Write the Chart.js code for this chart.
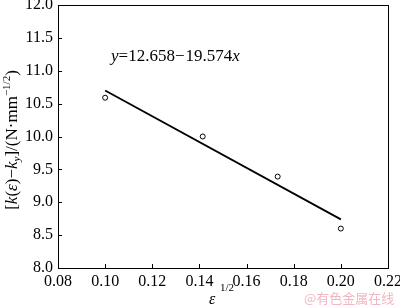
<!DOCTYPE html>
<html>
<head>
<meta charset="utf-8">
<script src="https://cdn.jsdelivr.net/npm/chart.js@4"></script>
<style>
  html, body { margin:0; padding:0; background:#fff; }
  #wrap { width:400px; height:307px; position:relative; }
</style>
</head>
<body>
<div id="wrap"><canvas id="c" width="400" height="307"></canvas></div>
<script>
// measured points (sqrt of strain vs. k(e)-ky)
const epsRoot = [0.100, 0.1414, 0.1732, 0.200];
const kDiff = [10.59, 10.00, 9.39, 8.60];
// fitted line y = 12.658 - 19.574x, end points
const fitX = [0.100, 0.200];
const fitY = [10.70, 8.74];

const SERIF = '"Liberation Serif", "DejaVu Serif", serif';

const frame = {
    id: 'frame',
    afterDraw(chart) {
        const { ctx, chartArea: a, scales } = chart;
        ctx.save();
        ctx.strokeStyle = '#000';
        ctx.lineWidth = 1;
        ctx.strokeRect(a.left + 0.5, a.top + 0.5, a.width, a.height);
        // inward tick marks
        ctx.beginPath();
        scales.x.ticks.forEach(t => {
            const px = Math.round(scales.x.getPixelForValue(t.value)) + 0.5;
            ctx.moveTo(px, a.bottom); ctx.lineTo(px, a.bottom - 4);
        });
        scales.y.ticks.forEach(t => {
            const py = Math.round(scales.y.getPixelForValue(t.value)) + 0.5;
            ctx.moveTo(a.left, py); ctx.lineTo(a.left + 4, py);
        });
        ctx.stroke();

        // equation
        ctx.fillStyle = '#000';
        ctx.textBaseline = 'alphabetic';
        let x = 111;
        const yb = 61;
        const parts = [['y', 'italic '], ['=12.658', ''], ['\u2212', ''], ['19.574', ''], ['x', 'italic ']];
        parts.forEach(([s, st]) => {
            ctx.font = st + '17px ' + SERIF;
            ctx.fillText(s, x, yb);
            x += ctx.measureText(s).width + (s === '\u2212' ? 1 : 0);
        });

        // x title
        ctx.font = 'italic 16px ' + SERIF;
        ctx.fillText('\u03b5', 209, 304);
        ctx.font = '11px ' + SERIF;
        ctx.fillText('1/2', 220, 291);

        // y title (rotated)
        ctx.translate(17, 140);
        ctx.rotate(-Math.PI / 2);
        const yt = [
            ['[', '', 17, 0], ['k', 'italic ', 17, 0], ['(', '', 17, 0], ['\u03b5', 'italic ', 17, 0],
            [')\u2212', '', 17, 0], ['k', 'italic ', 17, 0], ['y', 'italic ', 11, 3],
            [']/(N\u00b7mm', '', 17, 0], ['\u22121/2', '', 11, -7], [')', '', 17, 0]
        ];
        let w = 0;
        yt.forEach(([s, st, sz]) => { ctx.font = st + sz + 'px ' + SERIF; w += ctx.measureText(s).width; });
        let cx = -w / 2;
        yt.forEach(([s, st, sz, dy]) => {
            ctx.font = st + sz + 'px ' + SERIF;
            ctx.fillText(s, cx, dy);
            cx += ctx.measureText(s).width;
        });
        ctx.restore();

        // watermark
        ctx.save();
        ctx.fillStyle = '#f2b6c0';
        ctx.font = '13px "Noto Sans CJK SC", sans-serif';
        ctx.textBaseline = 'alphabetic';
        ctx.fillText('@有色金属在线', 304, 303);
        ctx.restore();
    }
};

new Chart(document.getElementById('c'), {
    type: 'scatter',
    data: {
        datasets: [{
            data: epsRoot.map((v, i) => ({ x: v, y: kDiff[i] })),
            pointStyle: 'circle',
            pointRadius: 2.5,
            pointBorderWidth: 1,
            pointBorderColor: '#000',
            pointBackgroundColor: '#fff',
            showLine: false
        }, {
            data: fitX.map((v, i) => ({ x: v, y: fitY[i] })),
            showLine: true,
            borderColor: '#000',
            borderWidth: 1.8,
            pointRadius: 0
        }]
    },
    plugins: [frame],
    options: {
        responsive: false,
        animation: false,
        layout: { padding: { left: 0, top: 5, right: 12, bottom: 0 } },
        plugins: { legend: { display: false }, tooltip: { enabled: false } },
        scales: {
            x: {
                type: 'linear', min: 0.08, max: 0.22,
                grid: { display: false, drawTicks: false },
                border: { display: false },
                ticks: { stepSize: 0.02, padding: 4, color: '#000',
                    font: { family: SERIF, size: 16 },
                    callback: v => v.toFixed(2) },
                afterFit(s) { s.height = 39; s.paddingLeft = 0; s.paddingRight = 0; }
            },
            y: {
                type: 'linear', min: 8, max: 12,
                grid: { display: false, drawTicks: false },
                border: { display: false },
                ticks: { stepSize: 0.5, padding: 5, color: '#000',
                    font: { family: SERIF, size: 16 },
                    callback: v => v.toFixed(1) },
                afterFit(s) { s.width = 58; s.paddingTop = 0; s.paddingBottom = 0; }
            }
        }
    }
});
</script>
</body>
</html>
